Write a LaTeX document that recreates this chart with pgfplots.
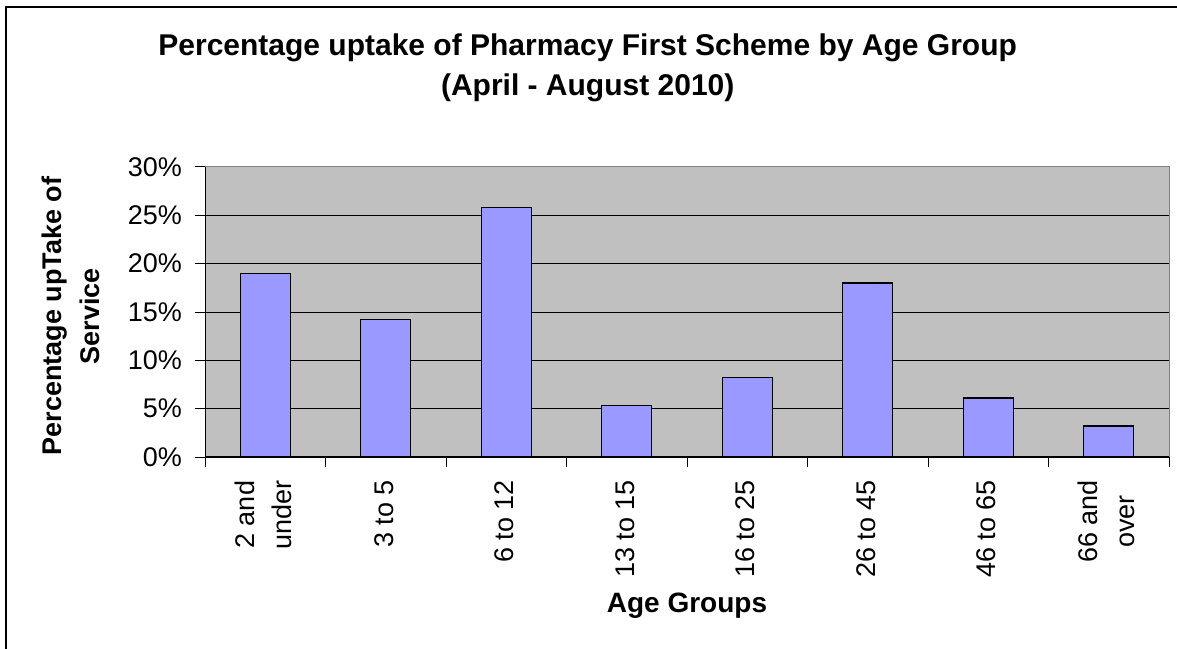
\documentclass[border=0pt]{standalone}
\usepackage{pgfplots}
\pgfplotsset{compat=1.18}
\usepackage{fontspec}
\setmainfont{Liberation Sans}
\definecolor{plotbg}{HTML}{C0C0C0}
\definecolor{barfill}{HTML}{9999FF}
\definecolor{frame}{HTML}{808080}
\begin{document}
\begin{tikzpicture}[x=1pt,y=1pt]
\path[use as bounding box] (0,0) rectangle (1177,648);
\draw[line width=1.6pt] (6,-20) -- (6,641) -- (1200,641);
\begin{axis}[
  at={(205pt,191pt)}, anchor=south west,
  scale only axis, width=964pt, height=290pt,
  ybar, bar width=50pt,
  xmin=0.5, xmax=8.5, ymin=0, ymax=30,
  axis background/.style={fill=plotbg},
  axis line style={draw=frame, line width=1pt},
  xtick={1,...,8},
  xticklabels={{2 and\\under},{3 to 5},{6 to 12},{13 to 15},{16 to 25},{26 to 45},{46 to 65},{66 and\\over}},
  x tick label style={yshift=-13pt, xshift=-2pt, rotate=90, anchor=east, align=center, font=\fontsize{27}{37}\selectfont, inner sep=0pt},
  xtick style={draw=none},
  extra x ticks={0.5,1.5,...,8.5},
  extra x tick labels={},
  extra x tick style={xtick style={draw=black, line width=1pt}, major tick length=10pt, grid=none},
  xtick pos=bottom, ytick pos=left,
  tick align=outside,
  ytick={0,5,...,30},
  yticklabels={0\%,5\%,10\%,15\%,20\%,25\%,30\%},
  y tick label style={xshift=-13pt, font=\fontsize{27}{30}\selectfont, inner sep=0pt},
  ytick style={draw=black, line width=1pt},
  major tick length=10pt,
  ymajorgrids, major grid style={draw=black, line width=1pt},
  title={Percentage uptake of Pharmacy First Scheme by Age Group\\(April - August 2010)},
  title style={at={(axis description cs:0.397,1.440)}, anchor=north, align=center, inner sep=0pt, font=\fontsize{30}{40}\selectfont\bfseries},
  ylabel={Percentage upTake of\\Service},
  ylabel style={at={(axis description cs:-0.139,0.486)}, anchor=center, align=center, inner sep=0pt, font=\fontsize{27}{38}\selectfont\bfseries},
  xlabel={Age Groups},
  xlabel style={at={(axis description cs:0.5,-0.514)}, anchor=center, inner sep=0pt, font=\fontsize{28}{32}\selectfont\bfseries},
]
\addplot[fill=barfill, draw=black, line width=1.4pt] coordinates {
  (1,19.0) (2,14.2) (3,25.8) (4,5.3) (5,8.2) (6,18.0) (7,6.1) (8,3.2)
};
\draw[black, line width=1.3pt] (rel axis cs:0,1) -- (rel axis cs:0,0) -- (rel axis cs:1,0);
\end{axis}
\end{tikzpicture}
\end{document}
